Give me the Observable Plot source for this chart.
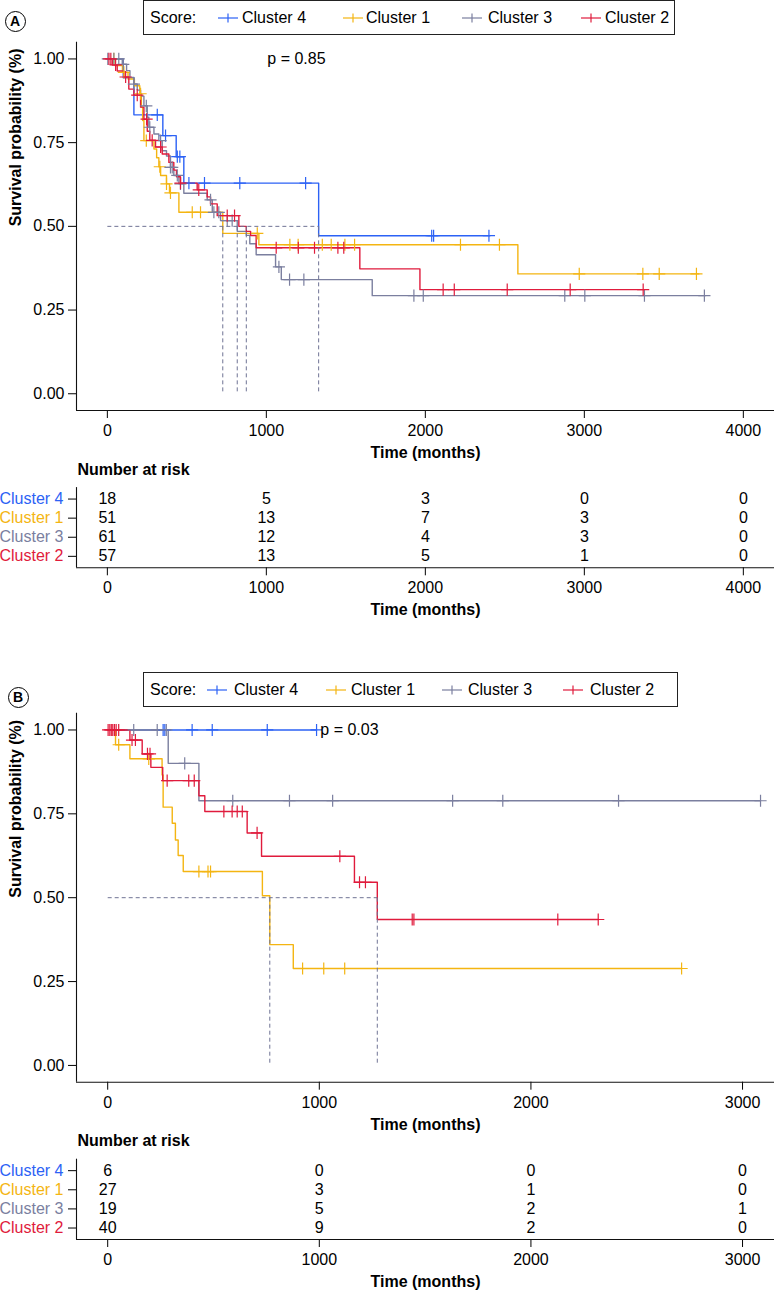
<!DOCTYPE html>
<html>
<head>
<meta charset="utf-8">
<script src="https://cdn.jsdelivr.net/npm/d3@7"></script>
<script src="https://cdn.jsdelivr.net/npm/@observablehq/plot@0.6"></script>
<style>
  html, body { margin: 0; padding: 0; background: #fff; }
  #page { position: relative; width: 774px; height: 1290px; overflow: hidden; background: #fff;
          font-family: "Liberation Sans", Arial, Helvetica, sans-serif; color: #000; }
  .abs { position: absolute; }
  .legbox { position: absolute; box-sizing: border-box; border: 1.2px solid #222; }
  .legtxt { position: absolute; font-size: 16px; line-height: 20px; white-space: nowrap; }
  .circ { position: absolute; box-sizing: border-box; width: 21px; height: 21px; border: 1.6px solid #000;
          border-radius: 50%; font-weight: bold; font-size: 14px; line-height: 18px; text-align: center; }
  svg { overflow: visible; }
</style>
</head>
<body>
<div id="page"></div>
<script>
// ---------------- DATA ----------------
const clusters = ["Cluster 4", "Cluster 1", "Cluster 3", "Cluster 2"];
const clusterColors = ["#2c62f5", "#f4b512", "#7b7f9f", "#e01b3c"];
const survTicks = [0, 0.25, 0.5, 0.75, 1];
const timeTicksA = [0, 1000, 2000, 3000, 4000];
const timeTicksB = [0, 1000, 2000, 3000];

// Panel A: Kaplan-Meier steps [time, survival], follow-up end, censor times
const stepsA4 = [[0,1],[100,0.944],[167,0.833],[349,0.771],[433,0.708],[481,0.629],[1329,0.472]];
const endA4 = 2406;
const censA4 = [314,366,440,456,513,611,833,1247,2040,2052,2400];

const stepsA1 = [[0,1],[50,0.98],[95,0.96],[130,0.94],[170,0.92],[204,0.896],[214,0.856],[222,0.816],[230,0.756],
                 [293,0.731],[310,0.705],[324,0.678],[335,0.652],[372,0.627],[391,0.60],[450,0.542],[726,0.479],
                 [953,0.445],[2582,0.358]];
const endA1 = 3720;
const censA1 = [41,104,209,245,330,372,397,534,586,943,1148,1200,1352,1408,1494,1555,2221,2466,2968,3368,3471,3705];

const stepsA3 = [[0,1],[94,0.984],[121,0.965],[142,0.945],[167,0.925],[188,0.907],[209,0.889],[230,0.86],[251,0.826],
                 [261,0.796],[293,0.776],[324,0.756],[345,0.726],[372,0.71],[397,0.676],[418,0.652],[450,0.627],
                 [481,0.599],[628,0.579],[660,0.542],[712,0.517],[817,0.485],[874,0.473],[896,0.448],[936,0.415],
                 [1058,0.379],[1094,0.341],[1666,0.293]];
const endA3 = 3760;
const censA3 = [3,41,72,100,167,245,267,335,397,408,440,460,649,670,701,754,785,1079,1146,1236,1928,1987,2877,3003,3378,3755];

const stepsA2 = [[0,1],[31,0.982],[62,0.964],[104,0.946],[135,0.91],[167,0.892],[209,0.856],[230,0.82],[251,0.784],
                 [267,0.757],[303,0.737],[345,0.716],[387,0.691],[418,0.668],[435,0.648],[460,0.629],[565,0.609],
                 [628,0.588],[649,0.567],[691,0.532],[827,0.5],[874,0.485],[901,0.4725],[936,0.436],[1588,0.373],
                 [1966,0.311]];
const endA2 = 3375;
const censA2 = [10,22,52,115,188,247,282,335,460,575,754,800,1062,1201,1303,1450,1487,2112,2182,2515,2911,3370];

const mediansA = [726, 817, 874, 1329];
const pValueA = "p = 0.85";

// Panel B
const stepsB4 = [[0,1]];
const endB4 = 987;
const censB4 = [262,270,399,494,754,987];

const stepsB1 = [[0,1],[37,0.956],[105,0.914],[257,0.866],[262,0.77],[305,0.722],[320,0.672],[333,0.626],[357,0.578],
                 [731,0.506],[766,0.36],[877,0.289]];
const endB1 = 2712;
const censB1 = [52,194,431,474,486,921,1021,1120,2712];

const stepsB3 = [[0,1],[286,0.9005],[431,0.789]];
const endB3 = 3085;
const censB3 = [123,234,277,364,591,859,1063,1630,1867,2414,3085];

const stepsB2 = [[0,1],[105,0.97],[163,0.9285],[204,0.8886],[260,0.849],[431,0.804],[459,0.757],[659,0.693],
                 [727,0.6235],[1166,0.546],[1274,0.435]];
const endB2 = 2320;
const censB2 = [2,10,17,24,32,40,52,115,131,188,200,281,383,409,549,588,612,636,706,1097,1190,1218,1439,1447,2127,2318];

const mediansB = [766, 1274];
const pValueB = "p = 0.03";

// Number at risk tables
const riskTimesA = [0, 1000, 2000, 3000, 4000];
const riskA4 = [18, 5, 3, 0, 0];
const riskA1 = [51, 13, 7, 3, 0];
const riskA3 = [61, 12, 4, 3, 0];
const riskA2 = [57, 13, 5, 1, 0];

const riskTimesB = [0, 1000, 2000, 3000];
const riskB4 = [6, 0, 0, 0];
const riskB1 = [27, 3, 1, 0];
const riskB3 = [19, 5, 2, 1];
const riskB2 = [40, 9, 2, 0];

// ---------------- DRAWING ----------------
const FONT = '"Liberation Sans", Arial, Helvetica, sans-serif';
const page = document.getElementById("page");
const baseStyle = {fontFamily: FONT, fontSize: "16px", background: "none", overflow: "visible", color: "#000"};

function stepAt(steps, t) {
  let s = steps[0][1];
  for (const [ti, si] of steps) if (ti <= t) s = si;
  return s;
}

function place(el, top) {
  el.style.position = "absolute";
  el.style.left = "0px";
  el.style.top = top + "px";
  page.appendChild(el);
}

function kmPlot({steps, ends, cens, medians, pText, xDomain, xTicks, top, height, marginTop, marginBottom}) {
  const lineData = [], censData = [];
  clusters.forEach(c => {
    const st = steps[c];
    st.forEach(([t, s]) => lineData.push({t, s, c}));
    lineData.push({t: ends[c], s: st[st.length - 1][1], c});
    cens[c].forEach(t => censData.push({t, s: stepAt(st, t), c}));
  });
  const medMax = d3.max(medians);
  const medSegs = [{x1: 0, x2: medMax, y1: 0.5, y2: 0.5}]
    .concat(medians.map(m => ({x1: m, x2: m, y1: 0.5, y2: 0})));
  const chart = Plot.plot({
    width: 774, height, marginLeft: 76, marginRight: 0, marginTop, marginBottom,
    style: baseStyle,
    x: {domain: xDomain, ticks: xTicks, tickFormat: d3.format("d"), tickSize: 8, tickPadding: 6, label: null},
    y: {domain: [-0.05, 1.05], ticks: survTicks, tickFormat: d3.format(".2f"), tickSize: 8, tickPadding: 4, label: null},
    color: {domain: clusters, range: clusterColors},
    marks: [
      Plot.ruleX([xDomain[0]], {stroke: "#111", strokeWidth: 1.1}),
      Plot.ruleY([-0.05], {stroke: "#111", strokeWidth: 1.1}),
      Plot.line(lineData, {x: "t", y: "s", z: "c", stroke: "c", curve: "step-after", strokeWidth: 1.4}),
      Plot.dot(censData, {x: "t", y: "s", stroke: "c", fill: "none", symbol: "plus", r: 4, strokeWidth: 1.2}),
      Plot.link(medSegs, {x1: "x1", y1: "y1", x2: "x2", y2: "y2", stroke: "#6f7394", strokeDasharray: "4,3", strokeWidth: 1}),
      Plot.text([{t: 1000, s: 1, label: pText}], {x: "t", y: "s", text: "label", textAnchor: "start", dx: 1, fontSize: 16}),
      Plot.text(["Time (months)"], {frameAnchor: "bottom", dy: 42.5, text: d => d, fontWeight: "bold", fontSize: 16, lineAnchor: "middle"}),
      Plot.text(["Survival probability (%)"], {frameAnchor: "left", rotate: -90, dx: -61, text: d => d, fontWeight: "bold", fontSize: 16, lineAnchor: "middle"})
    ]
  });
  place(chart, top);
}

function riskPlot({risk, times, xDomain, top, height, marginTop, marginBottom}) {
  const data = [];
  clusters.forEach((c, k) => risk[c].forEach((n, i) => data.push({t: times[i], n, row: k})));
  const rows = clusters.map((c, k) => ({c, row: k}));
  const chart = Plot.plot({
    width: 774, height, marginLeft: 76, marginRight: 0, marginTop, marginBottom,
    style: baseStyle,
    x: {domain: xDomain, ticks: times, tickFormat: d3.format("d"), tickSize: 8, tickPadding: 6, label: null},
    y: {domain: [clusters.length - 0.4, -0.6], ticks: d3.range(clusters.length), tickFormat: () => "", tickSize: 8, label: null},
    color: {domain: clusters, range: clusterColors},
    marks: [
      Plot.ruleX([xDomain[0]], {stroke: "#111", strokeWidth: 1.1}),
      Plot.ruleY([clusters.length - 0.4], {stroke: "#111", strokeWidth: 1.1}),
      Plot.text(data, {x: "t", y: "row", text: d => String(d.n), fontSize: 16}),
      Plot.text(rows, {y: "row", frameAnchor: "left", dx: -13, textAnchor: "end", text: "c", fill: "c", fontSize: 16}),
      Plot.text(["Number at risk"], {frameAnchor: "top-left", dx: 1, dy: -18, textAnchor: "start", lineAnchor: "middle", text: d => d, fontWeight: "bold", fontSize: 16}),
      Plot.text(["Time (months)"], {frameAnchor: "bottom", dy: 42.5, text: d => d, fontWeight: "bold", fontSize: 16, lineAnchor: "middle"})
    ]
  });
  place(chart, top);
}

function legend({left, top, width, height, textY, scoreX, markerX, textX}) {
  const box = document.createElement("div");
  box.className = "legbox";
  Object.assign(box.style, {left: left + "px", top: top + "px", width: width + "px", height: height + "px"});
  page.appendChild(box);
  const addText = (txt, x) => {
    const s = document.createElement("div");
    s.className = "legtxt";
    s.textContent = txt;
    Object.assign(s.style, {left: x + "px", top: (textY - 10) + "px"});
    page.appendChild(s);
  };
  addText("Score:", scoreX);
  clusters.forEach((c, i) => {
    const ns = "http://www.w3.org/2000/svg";
    const svg = document.createElementNS(ns, "svg");
    svg.setAttribute("width", 22); svg.setAttribute("height", 12);
    svg.style.position = "absolute";
    svg.style.left = (markerX[i] - 11) + "px";
    svg.style.top = (textY - 6) + "px";
    const h = document.createElementNS(ns, "line");
    h.setAttribute("x1", 1); h.setAttribute("x2", 21); h.setAttribute("y1", 6); h.setAttribute("y2", 6);
    const v = document.createElementNS(ns, "line");
    v.setAttribute("x1", 11); v.setAttribute("x2", 11); v.setAttribute("y1", 1.5); v.setAttribute("y2", 10.5);
    [h, v].forEach(l => { l.setAttribute("stroke", clusterColors[i]); l.setAttribute("stroke-width", 1.2); svg.appendChild(l); });
    page.appendChild(svg);
    addText(c, textX[i]);
  });
}

function panelLabel(letter, cx, cy) {
  const d = document.createElement("div");
  d.className = "circ";
  d.textContent = letter;
  Object.assign(d.style, {left: (cx - 10.5) + "px", top: (cy - 10.5) + "px"});
  page.appendChild(d);
}

const byCluster = arr => Object.fromEntries(clusters.map((c, i) => [c, arr[i]]));

// Panel A
kmPlot({
  steps: byCluster([stepsA4, stepsA1, stepsA3, stepsA2]),
  ends: byCluster([endA4, endA1, endA3, endA2]),
  cens: byCluster([censA4, censA1, censA3, censA2]),
  medians: mediansA, pText: pValueA,
  xDomain: [-194, 4196], xTicks: timeTicksA,
  top: 38, height: 432, marginTop: 3.7, marginBottom: 60
});
riskPlot({
  risk: byCluster([riskA4, riskA1, riskA3, riskA2]), times: riskTimesA,
  xDomain: [-194, 4196], top: 455, height: 170, marginTop: 32.1, marginBottom: 57.7
});
legend({left: 143, top: 0, width: 532, height: 35, textY: 18, scoreX: 150,
        markerX: [228, 353, 472, 591], textX: [242, 366, 488, 605]});
panelLabel("A", 15, 21);

// Panel B
kmPlot({
  steps: byCluster([stepsB4, stepsB1, stepsB3, stepsB2]),
  ends: byCluster([endB4, endB1, endB3, endB2]),
  cens: byCluster([censB4, censB1, censB3, censB2]),
  medians: mediansB, pText: pValueB,
  xDomain: [-147.4, 3151], xTicks: timeTicksB,
  top: 709, height: 431, marginTop: 3.7, marginBottom: 58.3
});
riskPlot({
  risk: byCluster([riskB4, riskB1, riskB3, riskB2]), times: riskTimesB,
  xDomain: [-147.4, 3151], top: 1125, height: 165, marginTop: 33.7, marginBottom: 51
});
legend({left: 143, top: 672, width: 535, height: 35, textY: 689.5, scoreX: 150,
        markerX: [217, 336, 452, 573], textX: [234, 351, 468, 590]});
panelLabel("B", 18, 697);
</script>
</body>
</html>
